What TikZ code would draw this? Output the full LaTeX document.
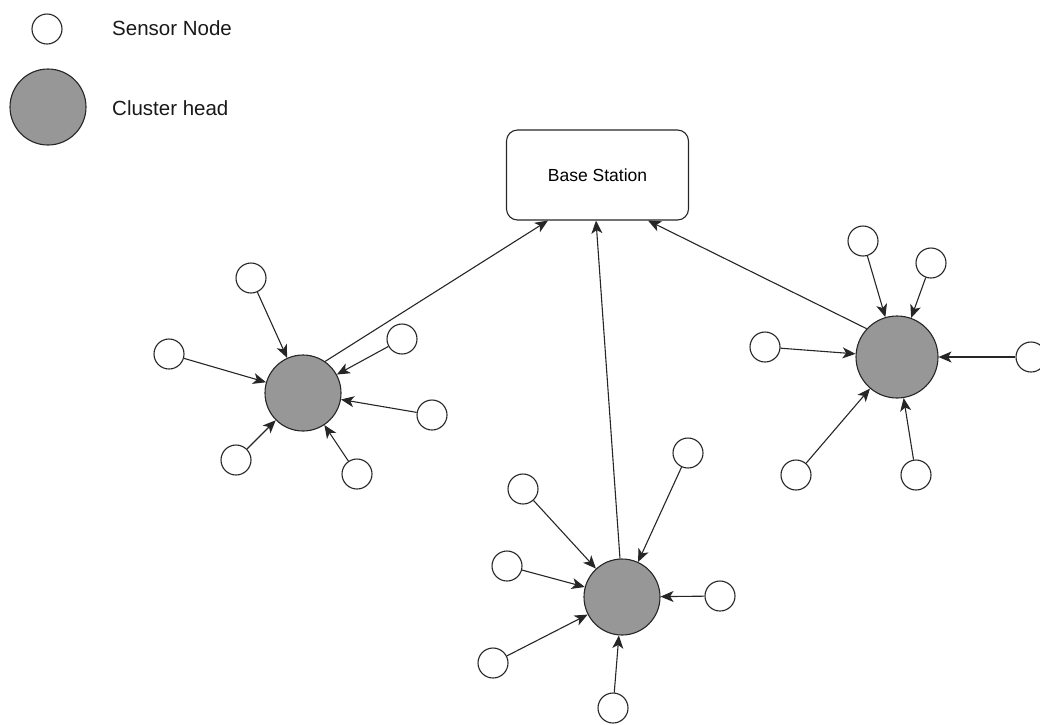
\documentclass[tikz,border=0pt]{standalone}
\usepackage{fontspec}
\setmainfont{Liberation Sans}
\usetikzlibrary{arrows.meta,calc}
\definecolor{linec}{HTML}{262626}
\definecolor{headfill}{HTML}{979797}
\begin{document}
\begin{tikzpicture}[x=1pt,y=-1pt,
  sensor/.style={circle,draw=linec,line width=1.1pt,fill=white,minimum size=30pt,inner sep=0pt},
  chead/.style={circle,draw=linec,line width=1.1pt,fill=headfill,minimum size=76pt,inner sep=0pt},
  link/.style={draw=linec,line width=1.1pt,-{Stealth[length=13pt,width=11pt,inset=3.5pt]}},
  legendtext/.style={anchor=west,inner sep=0pt,font=\fontsize{20.5}{24}\selectfont,text=black!90},
  bsbox/.style={draw=linec,line width=1.1pt,rounded corners=11pt,minimum width=182pt,minimum height=90pt,font=\fontsize{17.5}{21}\selectfont}]
\useasboundingbox (0,0) rectangle (1040,724);

% legend
\node[sensor] (lgs) at (47,29) {};
\node[legendtext] (lgst) at (112,28) {Sensor Node};
\node[chead] (lgc) at (48,107) {};
\node[legendtext] (lgct) at (112,108) {Cluster head};

% base station
\node[bsbox] (base) at (597.5,175) {Base Station};
\coordinate (b1) at ($(base.south)+(-49.5,0)$);
\coordinate (b2) at ($(base.south)+(-1.5,0)$);
\coordinate (b3) at ($(base.south)+(50.5,0)$);

% cluster heads
\node[chead] (ch1) at (303,393) {};
\node[chead] (ch2) at (622,597) {};
\node[chead,minimum size=82pt] (ch3) at (897,357) {};

% sensors of the left cluster
\node[sensor] (a1) at (251,278) {};
\node[sensor] (a2) at (169,354) {};
\node[sensor] (a3) at (402,339) {};
\node[sensor] (a4) at (432,415) {};
\node[sensor] (a5) at (236,460) {};
\node[sensor] (a6) at (357,474) {};

% sensors of the bottom cluster
\node[sensor] (c1) at (688,453) {};
\node[sensor] (c2) at (523,489) {};
\node[sensor] (c3) at (507,566) {};
\node[sensor] (c4) at (720,596) {};
\node[sensor] (c5) at (493,663) {};
\node[sensor] (c6) at (613,708) {};

% sensors of the right cluster
\node[sensor] (d1) at (863,241) {};
\node[sensor] (d2) at (931,263) {};
\node[sensor] (d3) at (765,347) {};
\node[sensor] (d4) at (1031,357) {};
\node[sensor] (d5) at (796,475) {};
\node[sensor] (d6) at (916,475) {};

% sensor to cluster head links
\foreach \s in {a1,a2,a3,a4,a5,a6} \draw[link] (\s) -- (ch1);
\foreach \s in {c1,c2,c3,c4,c5,c6} \draw[link] (\s) -- (ch2);
\foreach \s in {d1,d2,d3,d4,d5,d6} \draw[link] (\s) -- (ch3);

% cluster head to base station links
\draw[link] (ch1.55) -- (b1);
\draw[link] (ch2.93) -- (b2);
\draw[link] (ch3.137) -- (b3);
\end{tikzpicture}
\end{document}
